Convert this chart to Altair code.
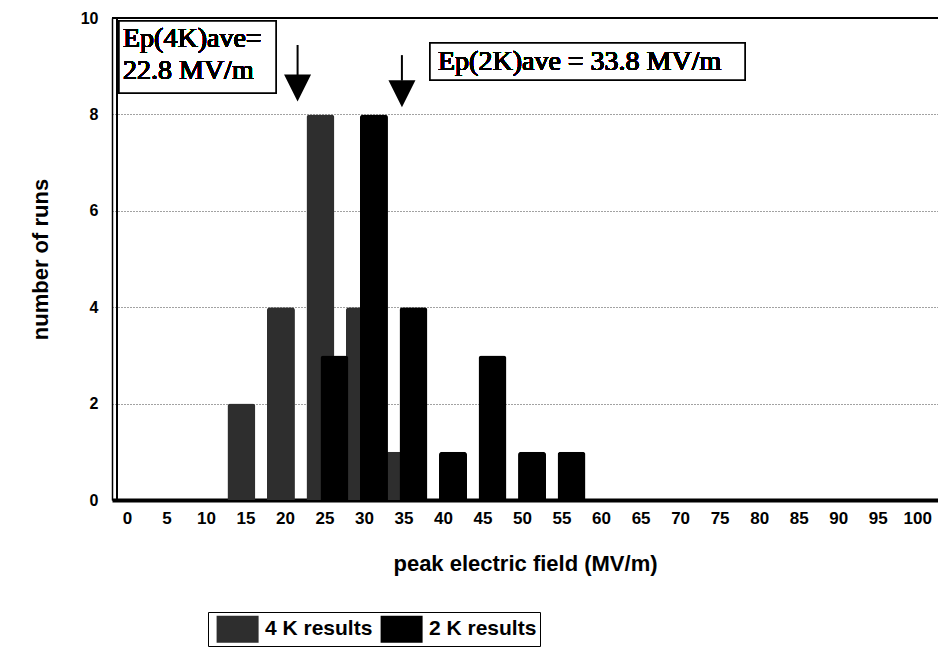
import altair as alt
import pandas as pd

# ---- data ----
field_bins = list(range(0, 101, 5))
runs_4k = [0, 0, 0, 2, 4, 8, 4, 1, 0, 0, 0, 0, 0, 0, 0, 0, 0, 0, 0, 0, 0]
runs_2k = [0, 0, 0, 0, 0, 3, 8, 4, 1, 3, 1, 1, 0, 0, 0, 0, 0, 0, 0, 0, 0]
series_names = ["4 K results", "2 K results"]
series_colors = ["#2e2e2e", "#000000"]

# annotation arrows (in data units)
arrow_x = [21.6, 34.8]
arrow_top = [9.44, 9.23]
arrow_base = [8.80, 8.70]
arrow_head = [8.55, 8.43]

box1_lines = ["Ep(4K)ave=", "22.8 MV/m"]
box2_text = "Ep(2K)ave = 33.8 MV/m"

rows = []
for f, a, b in zip(field_bins, runs_4k, runs_2k):
    rows.append({"x": f, "y": a, "series": series_names[0]})
    rows.append({"x": f, "y": b, "series": series_names[1]})
df = pd.DataFrame(rows)
arrows = pd.DataFrame({"x": arrow_x, "y": arrow_top, "y2": arrow_base, "yh": arrow_head})

FONT = "Liberation Sans"
SERIF = "Liberation Serif"

x_scale = alt.Scale(domain=[-1.25, 102], nice=False, zero=False)
y_scale = alt.Scale(domain=[0, 10], nice=False)

x_enc = alt.X(
    "x:Q",
    scale=x_scale,
    axis=alt.Axis(
        values=field_bins, format="d", grid=False, ticks=False,
        domainColor="black", domainWidth=4, labelFlush=False, labelOverlap=False,
        labelFont=FONT, labelFontWeight="bold", labelFontSize=17, labelColor="black",
        labelPadding=10, title="peak electric field (MV/m)", titleFont=FONT,
        titleFontWeight="bold", titleFontSize=22, titleColor="black", titlePadding=27,
    ),
)
y_enc = alt.Y(
    "y:Q",
    scale=y_scale,
    axis=alt.Axis(
        values=[0, 2, 4, 6, 8, 10], grid=True, gridDash=[1, 2], gridColor="#444444",
        gridWidth=1, ticks=False, domainColor="black", domainWidth=1.5,
        labelFont=FONT, labelFontWeight="bold", labelFontSize=16, labelColor="black",
        labelPadding=14, title="number of runs", titleFont=FONT, titleFontWeight="bold",
        titleFontSize=22, titleColor="black", titlePadding=28,
    ),
)
color_enc = alt.Color(
    "series:N",
    scale=alt.Scale(domain=series_names, range=series_colors),
    legend=alt.Legend(
        title=None, orient="none", legendX=96, legendY=594, direction="horizontal",
        symbolType="M-0.6,-0.96L2.4,-0.96L2.4,0.96L-0.6,0.96Z", symbolSize=784,
        symbolStrokeWidth=0, labelFont=FONT, labelFontSize=21, labelFontWeight="bold",
        labelColor="black", strokeColor="black", fillColor="white", padding=3,
        labelOffset=26, columnPadding=2, labelLimit=300,
    ),
)

base = alt.Chart(df)
bars4 = base.transform_filter(alt.datum.series == series_names[0]).mark_bar(
    width=28, xOffset=-4, cornerRadiusTopLeft=3, cornerRadiusTopRight=3
).encode(x=x_enc, y=y_enc, color=color_enc)
bars2 = base.transform_filter(alt.datum.series == series_names[1]).mark_bar(
    width=28, xOffset=10, cornerRadiusTopLeft=3, cornerRadiusTopRight=3
).encode(x=x_enc, y=y_enc, color=color_enc)

top_line = alt.Chart(df).mark_rule(color="black", strokeWidth=1.5).encode(y=alt.value(0))
left_line2 = alt.Chart(df).mark_rule(color="black", strokeWidth=1.2).encode(x=alt.value(5))

shafts = alt.Chart(arrows).mark_rule(color="black", strokeWidth=2).encode(
    x=x_enc, y=y_enc, y2="y2:Q"
)
heads = alt.Chart(arrows).mark_point(
    shape="M-1,-1L1,-1L0,1Z", filled=True, size=729, color="black", opacity=1
).encode(x=x_enc, y=alt.Y("yh:Q", scale=y_scale))

box1 = alt.Chart(df).mark_rect(fill="white", stroke="black", strokeWidth=1.5).encode(
    x=alt.value(7), x2=alt.value(164), y=alt.value(3), y2=alt.value(75)
)
text1 = alt.Chart(df).mark_text(
    font=SERIF, fontSize=28, align="left", baseline="middle", lineHeight=32, color="black"
).encode(x=alt.value(11), y=alt.value(21), text=alt.value(box1_lines))
box2 = alt.Chart(df).mark_rect(fill="white", stroke="black", strokeWidth=1.5).encode(
    x=alt.value(318), x2=alt.value(633), y=alt.value(25), y2=alt.value(62)
)
text2 = alt.Chart(df).mark_text(
    font=SERIF, fontSize=28, align="left", baseline="middle", color="black"
).encode(x=alt.value(326), y=alt.value(44), text=alt.value(box2_text))

chart = alt.layer(
    bars4, bars2, top_line, left_line2, shafts, heads, box1, text1, box2, text2
).properties(
    width=826, height=482,
    padding={"left": 104, "top": 10, "right": 0, "bottom": 160},
    autosize=alt.AutoSizeParams(type="none"),
    background="white",
).configure_view(stroke=None)

chart.save("out.html", embed_options={"renderer": "svg", "actions": False})
